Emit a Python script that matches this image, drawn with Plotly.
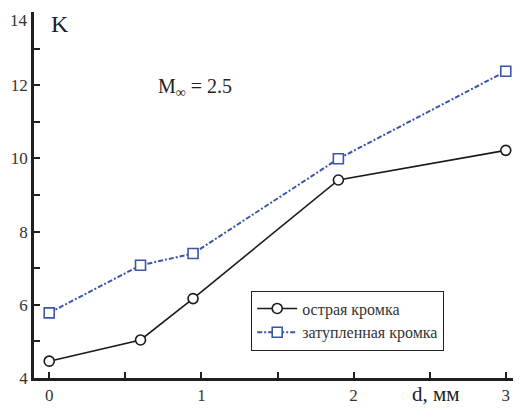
import plotly.graph_objects as go

d_sharp = [0, 0.60, 0.945, 1.90, 3.0]
k_sharp = [4.46, 5.04, 6.17, 9.41, 10.22]
d_blunt = [0, 0.60, 0.945, 1.90, 3.0]
k_blunt = [5.78, 7.08, 7.40, 9.99, 12.38]
name_sharp = "острая кромка"
name_blunt = "затупленная кромка"
y_ticks = [4, 6, 8, 10, 12, 14]
x_ticks = [0, 1, 2, 3]

SERIF = "Liberation Serif, Times New Roman, serif"
AX = "#231f20"

fig = go.Figure()
fig.add_trace(go.Scatter(
    x=d_sharp, y=k_sharp, name=name_sharp, mode="lines+markers",
    line=dict(color="#1a1a1a", width=1.6),
    marker=dict(symbol="circle", size=10, color="white", line=dict(color="#1a1a1a", width=1.6)),
))
fig.add_trace(go.Scatter(
    x=d_blunt, y=k_blunt, name=name_blunt, mode="lines+markers",
    line=dict(color="#3b56a8", width=2, dash="5px,2px,2px,2px"),
    marker=dict(symbol="square", size=10, color="white", line=dict(color="#3b56a8", width=1.6)),
))

# top label (14) drawn as annotation so it sits just below the tick, like the reference;
# its tick mark comes from the minor ticks
axis_y_ticks = y_ticks[:-1]

# page body adds an 8px margin; figure is sized/offset to compensate
fig.update_layout(
    width=513, height=401,
    margin=dict(l=26, r=0, t=4, b=31, autoexpand=False),
    paper_bgcolor="white", plot_bgcolor="white",
    font=dict(family=SERIF, color="#333333", size=17),
    showlegend=True,
    legend=dict(
        x=0.446, y=0.239, xanchor="left", yanchor="top",
        bordercolor="#222222", borderwidth=1, bgcolor="white",
        font=dict(family=SERIF, size=16, color="#333333"),
        tracegroupgap=0, itemwidth=40,
    ),
    xaxis=dict(
        range=[-0.1, 3.1], showgrid=False, zeroline=False, automargin=False,
        showline=True, linewidth=2.6, linecolor=AX, mirror=False,
        tickmode="array", tickvals=x_ticks, ticktext=[str(v) for v in x_ticks],
        ticks="inside", ticklen=6, tickwidth=1.5, tickcolor=AX,
        minor=dict(dtick=0.5, ticks="inside", ticklen=6, tickwidth=1.5, tickcolor=AX),
        tickfont=dict(family=SERIF, size=17, color="#333333"),
    ),
    yaxis=dict(
        range=[4, 14], showgrid=False, zeroline=False, automargin=False,
        showline=True, linewidth=2.6, linecolor=AX, mirror=False,
        tickmode="array", tickvals=axis_y_ticks, ticktext=[str(v) for v in axis_y_ticks],
        ticks="inside", ticklen=6, tickwidth=1.5, tickcolor=AX,
        minor=dict(dtick=1, ticks="inside", ticklen=6, tickwidth=1.5, tickcolor=AX),
        tickfont=dict(family=SERIF, size=17, color="#333333"),
    ),
    annotations=[
        dict(x=0, y=y_ticks[-1], xref="paper", yref="y", text=str(y_ticks[-1]), showarrow=False,
             xanchor="right", yanchor="top", xshift=-4, yshift=3,
             font=dict(family=SERIF, size=17, color="#333333")),
        dict(x=0.0, y=13.66, xref="x", yref="y", text="K", showarrow=False,
             xanchor="left", yanchor="middle", font=dict(family=SERIF, size=24, color="#222222")),
        dict(x=0.70, y=11.93, xref="x", yref="y", text="M<sub>∞</sub> = 2.5", showarrow=False,
             xanchor="left", yanchor="middle", font=dict(family=SERIF, size=20, color="#222222")),
        dict(x=2.54, y=-0.045, xref="x", yref="paper", text="d, мм", showarrow=False,
             xanchor="center", yanchor="middle", font=dict(family=SERIF, size=21, color="#222222")),
    ],
)

fig.write_html("out.html")
